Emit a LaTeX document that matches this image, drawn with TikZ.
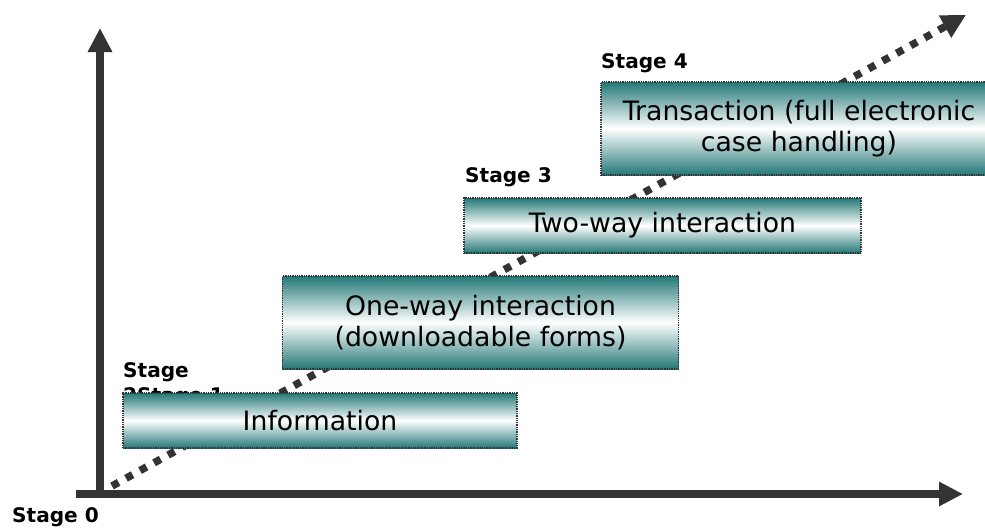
\documentclass[tikz,border=0pt]{standalone}
\usepackage{fontspec}
\setmainfont{DejaVu Sans}
\usetikzlibrary{arrows.meta}
\definecolor{axisgray}{RGB}{51,51,51}
\definecolor{stageteal}{RGB}{36,120,120}
\begin{document}
\begin{tikzpicture}[x=1pt,y=-1pt,
  stagebox/.style={draw=axisgray, densely dotted, line width=1.3pt,
    top color=stageteal, bottom color=stageteal, middle color=white,
    inner sep=0pt, align=center, text=black,
    font=\fontsize{26.7}{31}\selectfont},
  stagelabel/.style={anchor=base west, inner sep=0pt, align=left,
    font=\bfseries\fontsize{20.1}{25}\selectfont},
  axisline/.style={draw=axisgray, line width=8pt,
    -{Triangle[length=24pt,width=23pt]}},
  growth/.style={draw=axisgray, line width=7.5pt, dash pattern=on 7.5pt off 8.5pt,
    -{Triangle[length=24pt,width=24pt]}},
]
\useasboundingbox (0,0) rectangle (985,528);

% axes
\coordinate (origin) at (100,494);
\coordinate (ybot) at (100,498);
\coordinate (ytop) at (100,28);
\coordinate (xleft) at (76,494);
\coordinate (xright) at (963,494);
\draw[axisline] (ybot) -- (ytop);
\draw[axisline] (xleft) -- (xright);

% dotted growth arrow, running behind the stage boxes
\coordinate (gstart) at (112,486);
\coordinate (gend) at (966,15);
\draw[growth] (gstart) -- (gend);

% stage labels (the two-line one is anchored at its last baseline)
\node[stagelabel] (s0) at (12,522) {Stage 0};
\node[stagelabel] (s21) at (123,402) {Stage\\2Stage 1};
\node[stagelabel] (s3) at (465,182) {Stage 3};
\node[stagelabel] (s4) at (601,68) {Stage 4};

% stage boxes
\node[stagebox, minimum width=394pt, minimum height=55pt] (info) at (320,420.5) {Information};
\node[stagebox, minimum width=396pt, minimum height=93pt] (oneway) at (480.5,322.5) {One-way interaction\\(downloadable forms)};
\node[stagebox, minimum width=397pt, minimum height=55pt] (twoway) at (662.5,225.5) {Two-way interaction};
\node[stagebox, minimum width=396pt, minimum height=93pt] (trans) at (799,128.5) {Transaction (full electronic\\case handling)};
\end{tikzpicture}
\end{document}
